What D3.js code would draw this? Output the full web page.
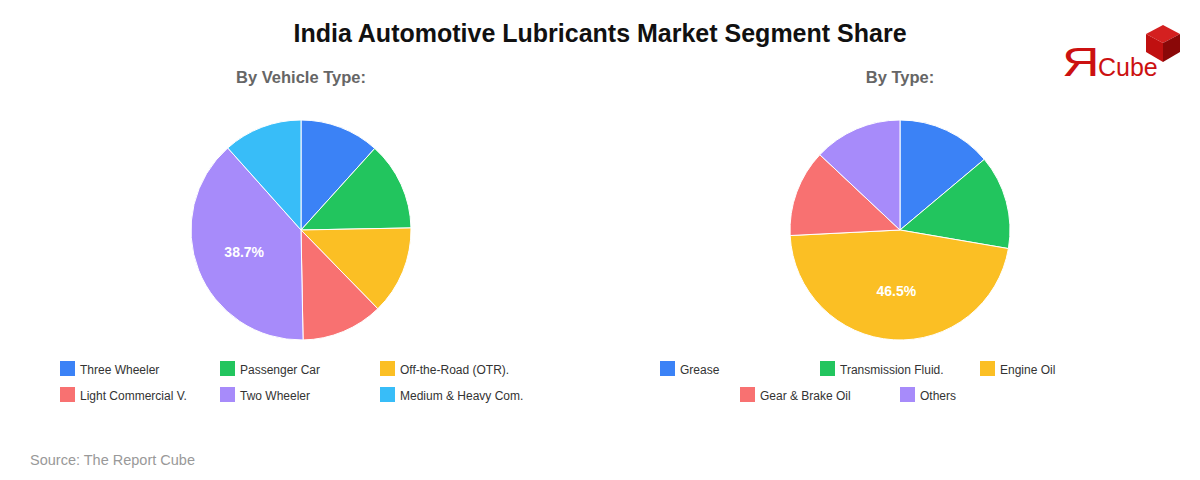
<!DOCTYPE html>
<html><head><meta charset="utf-8">
<script src="https://cdn.jsdelivr.net/npm/d3@7"></script>
<style>body{margin:0;background:#fff;font-family:"Liberation Sans",Arial,sans-serif;}</style>
</head><body>
<svg id="c" width="1200" height="480"></svg>
<script>
const vehicleCategories = ["Three Wheeler","Passenger Car","Off-the-Road (OTR).","Light Commercial V.","Two Wheeler","Medium & Heavy Com."];
const vehicleValues = [11.7, 13.0, 13.0, 12.0, 38.7, 11.6];
const typeCategories = ["Grease","Transmission Fluid.","Engine Oil","Gear & Brake Oil","Others"];
const typeValues = [13.9, 13.8, 46.5, 12.8, 13.0];
const vehicleColors = ["#3b82f6","#22c55e","#fbbf24","#f87171","#a78bfa","#38bdf8"];
const typeColors = ["#3b82f6","#22c55e","#fbbf24","#f87171","#a78bfa"];

const svg = d3.select("#c");
svg.append("rect").attr("width",1200).attr("height",480).attr("fill","#fff");

svg.append("text").attr("x",600).attr("y",42).attr("text-anchor","middle")
  .attr("font-size",25).attr("font-weight","bold").attr("fill","#111")
  .text("India Automotive Lubricants Market Segment Share");

function drawPie(cx, cy, title, cats, vals, colors, legendRows) {
  svg.append("text").attr("x",cx).attr("y",83).attr("text-anchor","middle")
    .attr("font-size",16.5).attr("font-weight","bold").attr("fill","#666").text(title);
  const data = cats.map((c,i)=>({c, v: vals[i], col: colors[i]}));
  const pie = d3.pie().value(d=>d.v).sort(null);
  const arc = d3.arc().innerRadius(0).outerRadius(110);
  const labelArc = d3.arc().innerRadius(61).outerRadius(61);
  const g = svg.append("g").attr("transform",`translate(${cx},${cy})`);
  const arcs = pie(data);
  g.selectAll("path").data(arcs).join("path").attr("d",arc)
    .attr("fill",d=>d.data.col).attr("stroke","#fff").attr("stroke-width",1);
  g.selectAll("text").data(arcs.filter(d=>d.data.v>30)).join("text")
    .attr("transform",d=>`translate(${labelArc.centroid(d)})`)
    .attr("text-anchor","middle").attr("dy","0.35em")
    .attr("font-size",14).attr("font-weight","bold").attr("fill","#fff")
    .text(d=>d.data.v.toFixed(1)+"%");
  legendRows.forEach((row, ri) => {
    row.items.forEach((idx, k) => {
      const x = row.x0 + k*160, y = 361 + ri*26;
      svg.append("rect").attr("x",x).attr("y",y).attr("width",15).attr("height",15).attr("fill",colors[idx]);
      svg.append("text").attr("x",x+20).attr("y",y+12.5).attr("font-size",12).attr("fill","#333").text(cats[idx]);
    });
  });
}

drawPie(301, 230, "By Vehicle Type:", vehicleCategories, vehicleValues, vehicleColors,
  [{x0:60, items:[0,1,2]},{x0:60, items:[3,4,5]}]);
drawPie(900, 230, "By Type:", typeCategories, typeValues, typeColors,
  [{x0:660, items:[0,1,2]},{x0:740, items:[3,4]}]);

svg.append("text").attr("x",30).attr("y",465).attr("font-size",14.5).attr("fill","#999")
  .text("Source: The Report Cube");

const lg = svg.append("g");
const cubeX = 1163, cubeY = 25;
lg.append("path").attr("d",`M${cubeX},${cubeY} L${cubeX+17},${cubeY+9} L${cubeX},${cubeY+18} L${cubeX-17},${cubeY+9} Z`).attr("fill","#d42020");
lg.append("path").attr("d",`M${cubeX-17},${cubeY+9} L${cubeX},${cubeY+18} L${cubeX},${cubeY+37} L${cubeX-17},${cubeY+27} Z`).attr("fill","#c01010");
lg.append("path").attr("d",`M${cubeX},${cubeY+18} L${cubeX+17},${cubeY+9} L${cubeX+17},${cubeY+27} L${cubeX},${cubeY+37} Z`).attr("fill","#8a0808");
lg.append("text").attr("x",1062).attr("y",76).attr("font-size",40).attr("fill","#cc1111")
  .attr("transform","translate(1062,76) scale(1.3,1) translate(-1062,-76)").text("Я");
lg.append("text").attr("x",1098).attr("y",76).attr("font-size",25).attr("fill","#cc1111").text("Cube");
</script>
</body></html>
